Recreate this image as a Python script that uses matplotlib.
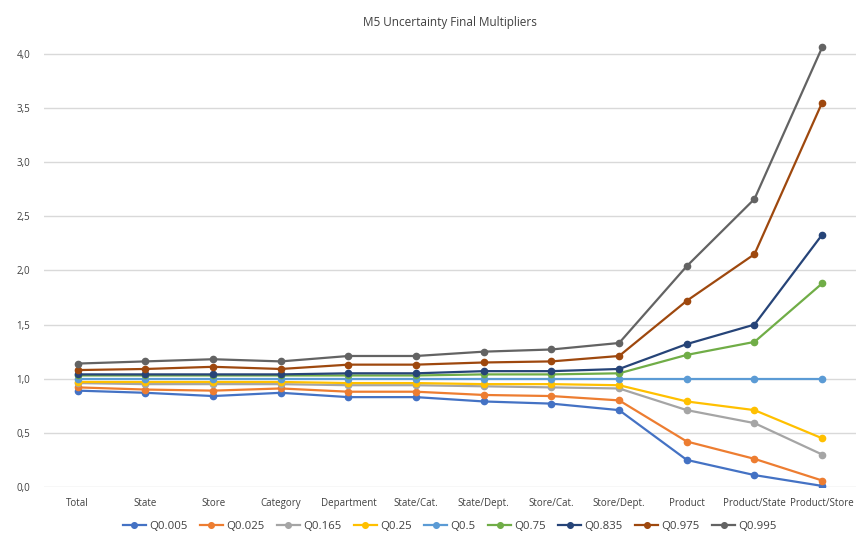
import matplotlib
matplotlib.use("Agg")
import matplotlib.pyplot as plt
from matplotlib.ticker import FuncFormatter

levels = ["Total", "State", "Store", "Category", "Department", "State/Cat.",
          "State/Dept.", "Store/Cat.", "Store/Dept.", "Product",
          "Product/State", "Product/Store"]

q0005 = [0.89, 0.87, 0.84, 0.87, 0.83, 0.83, 0.79, 0.77, 0.71, 0.25, 0.11, 0.01]
q0025 = [0.92, 0.90, 0.89, 0.91, 0.88, 0.88, 0.85, 0.84, 0.80, 0.42, 0.26, 0.06]
q0165 = [0.96, 0.95, 0.95, 0.95, 0.94, 0.94, 0.93, 0.92, 0.91, 0.71, 0.59, 0.30]
q025 = [0.97, 0.97, 0.97, 0.97, 0.96, 0.96, 0.95, 0.95, 0.94, 0.79, 0.71, 0.45]
q05 = [1.0] * 12
q075 = [1.03, 1.03, 1.03, 1.03, 1.03, 1.03, 1.04, 1.04, 1.05, 1.22, 1.34, 1.88]
q0835 = [1.04, 1.04, 1.04, 1.04, 1.05, 1.05, 1.07, 1.07, 1.09, 1.32, 1.50, 2.33]
q0975 = [1.08, 1.09, 1.11, 1.09, 1.13, 1.13, 1.15, 1.16, 1.21, 1.72, 2.15, 3.55]
q0995 = [1.14, 1.16, 1.18, 1.16, 1.21, 1.21, 1.25, 1.27, 1.33, 2.04, 2.66, 4.06]

series = [("Q0.005", q0005, "#4472C4"),
          ("Q0.025", q0025, "#ED7D31"),
          ("Q0.165", q0165, "#A5A5A5"),
          ("Q0.25", q025, "#FFC000"),
          ("Q0.5", q05, "#5B9BD5"),
          ("Q0.75", q075, "#70AD47"),
          ("Q0.835", q0835, "#264478"),
          ("Q0.975", q0975, "#9E480E"),
          ("Q0.995", q0995, "#636363")]

plt.rcParams['font.family'] = ['Open Sans', 'DejaVu Sans']

fig = plt.figure(figsize=(8.62, 5.33), dpi=100)
ax = fig.add_axes([0.051, 0.0863, 0.942, 0.839])

x = list(range(len(levels)))
for name, vals, col in series:
    ax.plot(x, vals, color=col, lw=1.6, marker='o', ms=4.5, label=name)

ax.set_xlim(-0.5, len(levels) - 0.5)
ax.set_ylim(0, 4.13)
ax.set_yticks([0, 0.5, 1.0, 1.5, 2.0, 2.5, 3.0, 3.5, 4.0])
ax.yaxis.set_major_formatter(FuncFormatter(lambda v, p: f"{v:.1f}".replace('.', ',')))
ax.set_xticks(x)
ax.set_xticklabels(levels)
ax.grid(axis='y', color='#D9D9D9', lw=1)
ax.set_axisbelow(True)
for s in ax.spines.values():
    s.set_visible(False)
ax.tick_params(length=0, labelsize=7, colors='#404040')
ax.tick_params(axis='x', pad=8)
ax.tick_params(axis='y', pad=10)

ax.set_title("M5 Uncertainty Final Multipliers", fontsize=8.5, color='#404040', pad=10)

ax.legend(loc='center', bbox_to_anchor=(0.5, -0.088), ncol=9, frameon=False,
          fontsize=8.2, handlelength=2, handletextpad=0.3, columnspacing=1.1,
          labelcolor='#404040', markerscale=0.9)

fig.savefig("out.png", dpi=100)
